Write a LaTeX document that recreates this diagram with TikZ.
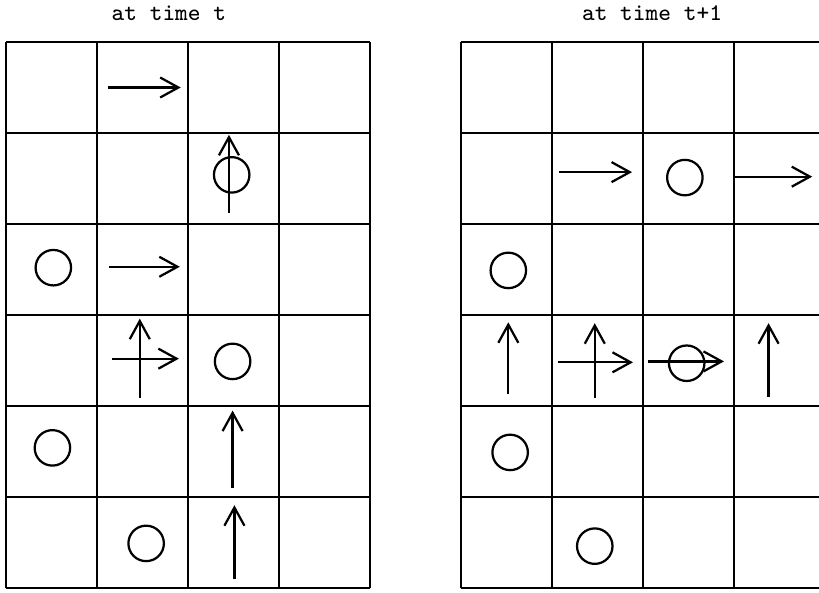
\documentclass[tikz,border=0pt]{standalone}
\usepackage{tikz}
\usetikzlibrary{arrows.meta}

\begin{document}
\begin{tikzpicture}[
  x=1cm, y=1cm,
  gridline/.style={line width=0.8pt, black},
  particle/.style={circle, draw, line width=0.7pt, minimum size=0.39cm, inner sep=0pt},
  arr/.style={-{Straight Barb[length=2mm, width=2.2mm]}, line width=0.7pt},
  caption/.style={font=\fontsize{7.5}{9}\selectfont\ttfamily, inner sep=0pt},
]
\clip (-0.066,0.4615) rectangle (8.934,-6.055);

% Titles
\node[caption] (titleA) at (1.79,0.32) {at time t};
\node[caption] (titleB) at (7.10,0.32) {at time t+1};

% Grids
\draw[gridline] (0,0) grid (4,-6);
\draw[gridline] (5,0) grid (9,-6);

% Left grid -- particles
\node[particle] (la) at (2.48,-1.46) {};
\node[particle] (lb) at (0.52,-2.48) {};
\node[particle] (lc) at (2.49,-3.51) {};
\node[particle] (ld) at (0.51,-4.46) {};
\node[particle] (le) at (1.54,-5.51) {};

% Left grid -- moves
\draw[arr] (1.12,-0.50) -- (1.92,-0.50);
\draw[arr] (2.45,-1.88) -- (2.45,-1.02);
\draw[arr] (1.13,-2.47) -- (1.91,-2.47);
\draw[arr] (1.47,-3.91) -- (1.47,-3.04);
\draw[arr] (1.16,-3.48) -- (1.90,-3.48);
\draw[arr] (2.49,-4.90) -- (2.49,-4.05);
\draw[arr] (2.51,-5.90) -- (2.51,-5.09);

% Right grid -- particles
\node[particle] (ra) at (7.46,-1.49) {};
\node[particle] (rb) at (5.52,-2.51) {};
\node[particle] (rc) at (7.48,-3.53) {};
\node[particle] (rd) at (5.54,-4.51) {};
\node[particle] (re) at (6.47,-5.54) {};

% Right grid -- moves
\draw[arr] (6.08,-1.43) -- (6.88,-1.43);
\draw[arr] (8.01,-1.48) -- (8.86,-1.48);
\draw[arr] (5.52,-3.87) -- (5.52,-3.08);
\draw[arr] (6.47,-3.91) -- (6.47,-3.09);
\draw[arr] (6.07,-3.52) -- (6.89,-3.52);
\draw[arr] (7.05,-3.51) -- (7.89,-3.51);
\draw[arr] (8.38,-3.90) -- (8.38,-3.09);

\end{tikzpicture}
\end{document}
